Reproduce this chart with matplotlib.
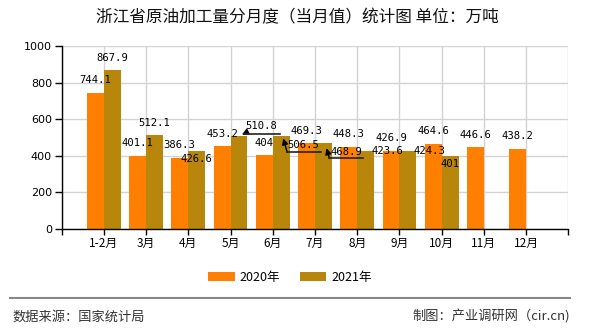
import matplotlib
matplotlib.use("Agg")
import matplotlib.pyplot as plt
import numpy as np

plt.rcParams["font.family"] = ["Noto Sans CJK SC", "DejaVu Sans"]

months = ["1-2月", "3月", "4月", "5月", "6月", "7月", "8月", "9月", "10月", "11月", "12月"]
y2020 = [744.1, 401.1, 386.3, 453.2, 404, 469.3, 448.3, 426.9, 464.6, 446.6, 438.2]
y2021 = [867.9, 512.1, 426.6, 510.8, 506.5, 468.9, 423.6, 424.3, 401, np.nan, np.nan]
labels2020 = ["744.1", "401.1", "386.3", "453.2", "404", "469.3", "448.3", "426.9", "464.6", "446.6", "438.2"]
labels2021 = ["867.9", "512.1", "426.6", "510.8", "506.5", "468.9", "423.6", "424.3", "401", "", ""]

c2020 = "#ff8000"
c2021 = "#b8860b"

# label offsets in pixels (dx right, dy down) from bar top centre
off2020 = {2: (-1, -13)}
off2021 = {2: (0, 8), 3: (22, -10), 4: (22, 9), 5: (23, 8.5), 6: (22, 0), 7: (22, 0), 8: (0, 8)}
# leader lines: pixel offsets from bar top centre, first point is the arrow tip
leaders2021 = {
    3: [(3, -1), (5, -2), (41, -2)],
    4: [(2, 2), (6, 16), (40, 16)],
    5: [(3, 5), (6, 15), (40, 15)],
}

fig = plt.figure(figsize=(5.9, 3.3), dpi=100)
ax = fig.add_axes([61.7 / 590, 101 / 330, (568.3 - 61.7) / 590, 183 / 330])

x = np.arange(len(months))
w = 0.4
ax.bar(x - w / 2, y2020, w, color=c2020, label="2020年", zorder=2)
ax.bar(x + w / 2, y2021, w, color=c2021, label="2021年", zorder=2)

ax.set_xlim(-1, 11)
ax.set_ylim(0, 1000)
ax.set_yticks(range(0, 1001, 200))
ax.set_xticks(range(-1, 12))
ax.set_xticklabels([""] + months + [""])
ax.grid(True, color="#d3d3d3", linewidth=1, zorder=0)
for s in ["top", "right"]:
    ax.spines[s].set_visible(False)
for s in ["left", "bottom"]:
    ax.spines[s].set_color("black")
    ax.spines[s].set_linewidth(1)
ax.tick_params(axis="y", length=5, width=1, pad=2, labelsize=8)
ax.tick_params(axis="x", length=4, width=1, pad=2, labelsize=8.5)
for t in ax.get_yticklabels():
    t.set_family(["DejaVu Sans"])

lab_font = dict(family=["DejaVu Sans Mono"], fontsize=7.6, color="black", zorder=5)


def bar_label(xc, top, text, off):
    dx, dy = off
    ax.annotate(text, xy=(xc, top), xytext=(dx, -dy), textcoords="offset pixels",
                ha="center", va="center", **lab_font)


for i in range(len(months)):
    bar_label(x[i] - w / 2, y2020[i], labels2020[i], off2020.get(i, (0, -12.5)))
    if labels2021[i]:
        bar_label(x[i] + w / 2, y2021[i], labels2021[i], off2021.get(i, (0, -12)))

fig.canvas.draw()
for i, pts in leaders2021.items():
    X, Y = ax.transData.transform((x[i] + w / 2, y2021[i]))
    disp = [(X + dx, Y - dy) for dx, dy in pts]
    xs = [p[0] for p in disp[1:]]
    ys = [p[1] for p in disp[1:]]
    fig.add_artist(plt.Line2D(xs, ys, transform=None, color="#222222", lw=1.2, zorder=6))
    ax.annotate("", xy=disp[0], xycoords="figure pixels", xytext=disp[1], textcoords="figure pixels",
                arrowprops=dict(arrowstyle="-|>", color="black", lw=1.0, shrinkA=0, shrinkB=0,
                                mutation_scale=9), zorder=6)

fig.text(297 / 590, 1 - 18 / 330, "浙江省原油加工量分月度（当月值）统计图 单位：万吨",
         ha="center", va="center", fontsize=12, fontweight="medium", color="#111111")

leg = fig.legend(loc="center", bbox_to_anchor=(290 / 590, 1 - 277 / 330), ncol=2, frameon=False,
                 fontsize=9, handlelength=2.1, handleheight=0.75, handletextpad=0.4, columnspacing=1.6)

fig.add_artist(plt.Line2D([10 / 590, 570 / 590], [1 - 298 / 330, 1 - 298 / 330],
                          transform=fig.transFigure, color="#888888", lw=1.5))
fig.text(12 / 590, 1 - 317 / 330, "数据来源：国家统计局", ha="left", va="center",
         fontsize=9.5, color="#333333")
fig.text(570 / 590, 1 - 317 / 330, "制图：产业调研网（cir.cn)", ha="right", va="center",
         fontsize=9.5, color="#333333")

fig.savefig("out.png", dpi=100)
